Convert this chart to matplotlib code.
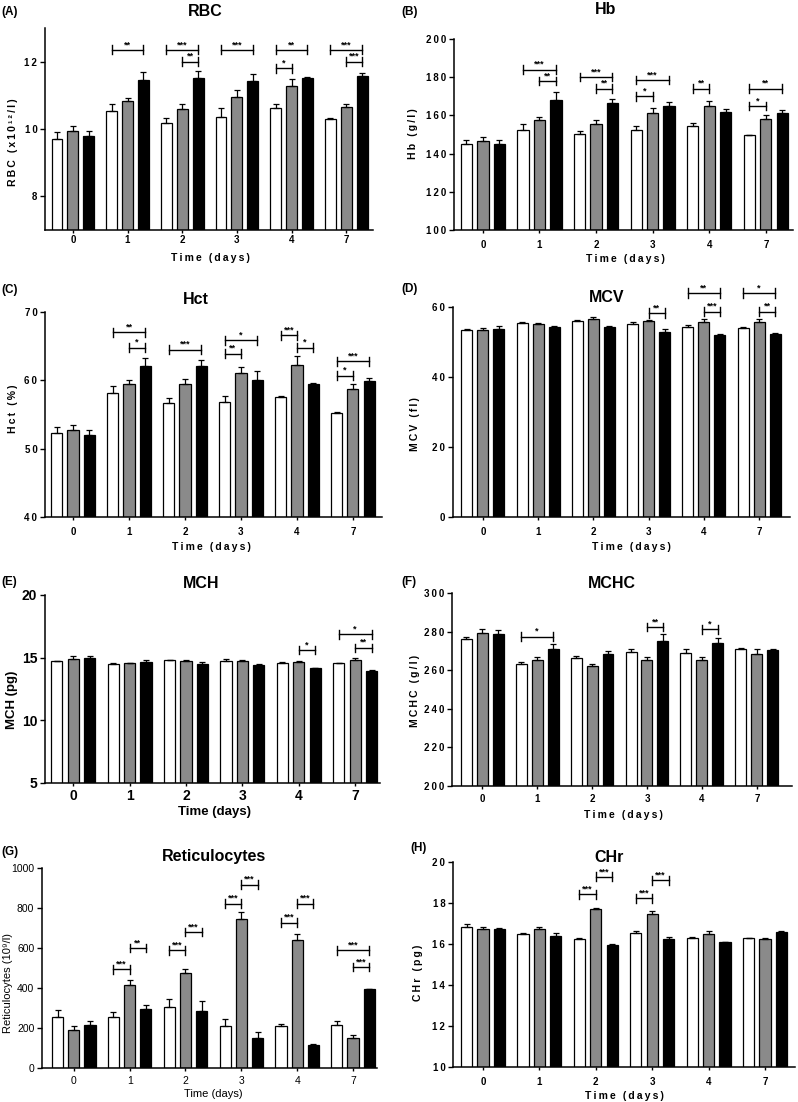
import numpy as np
import matplotlib.pyplot as plt

plt.rcParams['font.family'] = ['Liberation Sans', 'DejaVu Sans']

days = ['0', '1', '2', '3', '4', '7']

# values: white / gray / black groups, upper SEM
rbc_white = [9.70, 10.54, 10.18, 10.37, 10.61, 10.29]
rbc_gray = [9.93, 10.84, 10.59, 10.96, 11.27, 10.64]
rbc_black = [9.78, 11.47, 11.51, 11.44, 11.51, 11.57]
rbc_err_white = [0.20, 0.20, 0.14, 0.24, 0.12, 0.04]
rbc_err_gray = [0.17, 0.07, 0.16, 0.20, 0.22, 0.11]
rbc_err_black = [0.17, 0.23, 0.22, 0.19, 0.02, 0.08]
rbc_sig = [(1, 0, 2, 12.35, '**'), (2, 0, 2, 12.35, '***'), (2, 1, 2, 12.0, '**'),
           (3, 0, 2, 12.35, '***'), (4, 0, 2, 12.35, '**'), (4, 0, 1, 11.8, '*'),
           (5, 0, 2, 12.35, '***'), (5, 1, 2, 12.0, '***')]

hb_white = [145, 152.5, 150.5, 152.5, 154.5, 149.5]
hb_gray = [146.5, 157.5, 155.5, 161.5, 165, 158]
hb_black = [145, 168, 166.5, 165, 162, 161.5]
hb_err_white = [2, 3, 1.5, 2, 1.5, 0.5]
hb_err_gray = [2, 1.5, 2, 2.5, 2.5, 2]
hb_err_black = [2, 4, 2, 2, 1.5, 1.5]
hb_sig = [(1, 0, 2, 184, '***'), (1, 1, 2, 178, '**'), (2, 0, 2, 180, '***'),
          (2, 1, 2, 174, '**'), (3, 0, 2, 178.5, '***'), (3, 0, 1, 170, '*'),
          (4, 0, 1, 174, '**'), (5, 0, 2, 174, '**'), (5, 0, 1, 165, '*')]

hct_white = [52.3, 58.1, 56.7, 56.9, 57.5, 55.2]
hct_gray = [52.8, 59.5, 59.4, 61.0, 62.3, 58.7]
hct_black = [52.0, 62.1, 62.1, 60.1, 59.4, 59.85]
hct_err_white = [0.8, 1.1, 0.7, 0.8, 0.2, 0.2]
hct_err_gray = [0.7, 0.5, 0.8, 1.0, 1.2, 0.7]
hct_err_black = [0.8, 1.2, 0.9, 1.2, 0.2, 0.5]
hct_sig = [(1, 0, 2, 67.0, '**'), (1, 1, 2, 64.8, '*'), (2, 0, 2, 64.5, '***'),
           (3, 0, 2, 65.9, '*'), (3, 0, 1, 63.9, '**'), (4, 0, 1, 66.6, '***'),
           (4, 1, 2, 64.8, '*'), (5, 0, 2, 62.8, '***'), (5, 0, 1, 60.7, '*')]

mcv_white = [53.5, 55.4, 55.9, 55.1, 54.4, 53.9]
mcv_gray = [53.5, 55.1, 56.5, 55.9, 55.7, 55.7]
mcv_black = [53.8, 54.4, 54.2, 52.8, 51.9, 52.2]
mcv_err_white = [0.3, 0.4, 0.4, 0.5, 0.5, 0.3]
mcv_err_gray = [0.4, 0.3, 0.6, 0.4, 0.8, 1.0]
mcv_err_black = [0.8, 0.3, 0.4, 0.8, 0.3, 0.3]
mcv_sig = [(3, 1, 2, 58.3, '**'), (4, 0, 2, 64.0, '**'), (4, 1, 2, 58.7, '***'),
           (5, 0, 2, 64.0, '*'), (5, 1, 2, 58.7, '**')]

mch_white = [14.7, 14.5, 14.8, 14.75, 14.6, 14.55]
mch_gray = [14.9, 14.55, 14.7, 14.75, 14.65, 14.85]
mch_black = [14.95, 14.65, 14.5, 14.4, 14.15, 13.95]
mch_err_white = [0.05, 0.04, 0.05, 0.12, 0.08, 0.03]
mch_err_gray = [0.2, 0.05, 0.15, 0.05, 0.05, 0.12]
mch_err_black = [0.2, 0.15, 0.12, 0.08, 0.06, 0.03]
mch_sig = [(4, 1, 2, 15.6, '*'), (5, 0, 2, 16.85, '*'), (5, 1, 2, 15.8, '**')]

mchc_white = [276, 263, 266.5, 269.5, 269, 271]
mchc_gray = [279.5, 265.5, 262, 265.5, 265.5, 268.5]
mchc_black = [279, 271, 268.5, 275, 274, 270.5]
mchc_err_white = [1.3, 1, 1, 1.5, 2, 0.5]
mchc_err_gray = [2, 1.5, 1, 1.3, 1.3, 2.5]
mchc_err_black = [2, 2.5, 1.5, 4, 2.5, 0.5]
mchc_sig = [(1, 0, 2, 277.4, '*'), (3, 1, 2, 282.3, '**'), (4, 1, 2, 281.2, '*')]

ret_white = [255, 255, 305, 208, 208, 217]
ret_gray = [188, 413, 477, 747, 642, 150]
ret_black = [217, 297, 285, 150, 113, 393]
ret_err_white = [33, 25, 38, 38, 13, 18]
ret_err_gray = [22, 28, 20, 33, 30, 13]
ret_err_black = [18, 17, 50, 30, 8, 3]
ret_sig = [(1, 0, 1, 493, '***'), (1, 1, 2, 600, '**'), (2, 0, 1, 588, '***'),
           (2, 1, 2, 680, '***'), (3, 0, 1, 822, '***'), (3, 1, 2, 917, '***'),
           (4, 0, 1, 727, '***'), (4, 1, 2, 822, '***'), (5, 0, 2, 588, '***'),
           (5, 1, 2, 505, '***')]

chr_white = [16.85, 16.47, 16.23, 16.55, 16.3, 16.28]
chr_gray = [16.75, 16.75, 17.7, 17.47, 16.47, 16.23]
chr_black = [16.73, 16.4, 15.95, 16.25, 16.08, 16.6]
chr_err_white = [0.15, 0.07, 0.05, 0.1, 0.06, 0.03]
chr_err_gray = [0.08, 0.08, 0.05, 0.12, 0.15, 0.08]
chr_err_black = [0.05, 0.13, 0.05, 0.1, 0.03, 0.02]
chr_sig = [(2, 0, 1, 18.42, '***'), (2, 1, 2, 19.28, '***'),
           (3, 0, 1, 18.23, '***'), (3, 1, 2, 19.12, '***')]

W, H = 798, 1102
fig = plt.figure(figsize=(W / 100, H / 100), dpi=100)

offs = [-0.29, 0.0, 0.29]
faces = ['white', '#8a8a8a', 'black']
x = np.arange(len(days))


def spaced(s):
    return '\u2009'.join(s)


def ftext(xp, yp, s, **kw):
    fig.text(xp / W, 1 - yp / H, s, **kw)


def panel(box, vals, errs, sig, ylim, yticks, xlim, letter, title, ylabel,
          lab_pos, xpad, style='gp'):
    l, t, r, b = box
    ax = fig.add_axes([l / W, 1 - b / H, (r - l) / W, (b - t) / H])
    for k in range(3):
        ax.bar(x + offs[k], vals[k], width=0.2, color=faces[k],
               edgecolor='black', linewidth=0.9, zorder=2)
        ax.errorbar(x + offs[k], vals[k], yerr=[np.zeros(len(x)), errs[k]],
                    fmt='none', ecolor='black', elinewidth=0.9, capsize=2.3,
                    capthick=0.9, zorder=3)
    h = 0.022 * (ylim[1] - ylim[0])
    for d, i, j, y, lab in sig:
        x1, x2 = d + offs[i], d + offs[j]
        ax.plot([x1, x2], [y, y], color='black', lw=1.0, clip_on=False)
        ax.plot([x1, x1], [y - h, y + h], color='black', lw=1.0, clip_on=False)
        ax.plot([x2, x2], [y - h, y + h], color='black', lw=1.0, clip_on=False)
        ax.text((x1 + x2) / 2, y + 0.15 * h, lab, ha='center', va='bottom',
                fontsize=6.5, fontweight='bold', clip_on=False)
    ax.set_ylim(*ylim)
    ax.set_xlim(*xlim)
    ax.set_xticks(x)
    ax.set_yticks(yticks)
    for s in ['top', 'right']:
        ax.spines[s].set_visible(False)
    for s in ['left', 'bottom']:
        ax.spines[s].set_linewidth(1.1)
    ax.tick_params(axis='y', direction='out', length=3.5, width=1, pad=2)
    ax.tick_params(axis='x', direction='out', length=2.5, width=1, pad=xpad)

    if style == 'gp':
        ax.set_xticklabels(days, fontsize=7, fontweight='bold')
        ax.set_yticklabels([spaced(str(v)) for v in yticks], fontsize=7,
                           fontweight='bold')
        xl, yl = spaced('Time (days)'), spaced(ylabel)
        lkw = dict(fontsize=7.5, fontweight='bold')
    elif style == 'big':
        ax.set_xticklabels(days, fontsize=10, fontweight='bold')
        ax.set_yticklabels([str(v) for v in yticks], fontsize=10,
                           fontweight='bold')
        xl, yl = 'Time (days)', ylabel
        lkw = dict(fontsize=9.5, fontweight='bold')
    else:
        ax.set_xticklabels(days, fontsize=7.5)
        ax.set_yticklabels([str(v) for v in yticks], fontsize=7.5)
        xl, yl = 'Time (days)', ylabel
        lkw = dict(fontsize=8)

    (lx, ly), (tx, ty), (ylx, yly), (xlx, xly) = lab_pos
    ftext(lx, ly, letter, fontsize=8.5, fontweight='bold', va='center')
    ftext(tx, ty, title, fontsize=11.5, fontweight='bold', ha='center', va='center')
    ftext(ylx, yly, yl, rotation=90, ha='center', va='center', **lkw)
    ftext(xlx, xly, xl, ha='center', va='center', **lkw)
    return ax


panel((45, 28, 373, 230), [rbc_white, rbc_gray, rbc_black],
      [rbc_err_white, rbc_err_gray, rbc_err_black], rbc_sig,
      (7, 13), [8, 10, 12], (-0.51, 5.49), '(A)', 'RBC', 'RBC (x10¹²/l)',
      [(1, 12), (205, 11), (13, 142), (210, 258)], xpad=1)

panel((454, 39, 793, 230), [hb_white, hb_gray, hb_black],
      [hb_err_white, hb_err_gray, hb_err_black], hb_sig,
      (100, 200), [100, 120, 140, 160, 180, 200], (-0.51, 5.48), '(B)', 'Hb',
      'Hb (g/l)', [(401, 12), (606, 10), (413, 134), (625, 259)], xpad=5)

panel((45, 312, 382, 517), [hct_white, hct_gray, hct_black],
      [hct_err_white, hct_err_gray, hct_err_black], hct_sig,
      (40, 70), [40, 50, 60, 70], (-0.5, 5.52), '(C)', 'Hct', 'Hct (%)',
      [(1, 290), (196, 300), (13, 409), (211, 547)], xpad=4.5)

panel((453, 307, 790, 517), [mcv_white, mcv_gray, mcv_black],
      [mcv_err_white, mcv_err_gray, mcv_err_black], mcv_sig,
      (0, 60), [0, 20, 40, 60], (-0.54, 5.56), '(D)', 'MCV', 'MCV (fl)',
      [(401, 289), (607, 298), (415, 424), (631, 547)], xpad=4.5)

panel((45, 595, 380, 783), [mch_white, mch_gray, mch_black],
      [mch_err_white, mch_err_gray, mch_err_black], mch_sig,
      (5, 20), [5, 10, 15, 20], (-0.5, 5.44), '(E)', 'MCH', 'MCH (pg)',
      [(1, 582), (201, 583), (12, 700), (215, 812)], xpad=1.5, style='big')

panel((452, 593, 792, 786), [mchc_white, mchc_gray, mchc_black],
      [mchc_err_white, mchc_err_gray, mchc_err_black], mchc_sig,
      (200, 300), [200, 220, 240, 260, 280, 300], (-0.55, 5.64), '(F)', 'MCHC',
      'MCHC (g/l)', [(401, 582), (612, 583), (415, 691), (623, 815)], xpad=3.5)

panel((42, 868, 377, 1068), [ret_white, ret_gray, ret_black],
      [ret_err_white, ret_err_gray, ret_err_black], ret_sig,
      (0, 1000), [0, 200, 400, 600, 800, 1000], (-0.57, 5.43), '(G)',
      'Reticulocytes', 'Reticulocytes (10⁹/l)',
      [(1, 852), (214, 857), (8, 983), (213, 1094)], xpad=3.5, style='plain')

panel((453, 862, 795, 1067), [chr_white, chr_gray, chr_black],
      [chr_err_white, chr_err_gray, chr_err_black], chr_sig,
      (10, 20), [10, 12, 14, 16, 18, 20], (-0.53, 5.53), '(H)', 'CHr', 'CHr (pg)',
      [(410, 848), (609, 857), (418, 973), (624, 1096)], xpad=4.5)

fig.savefig('out.png', dpi=100)
